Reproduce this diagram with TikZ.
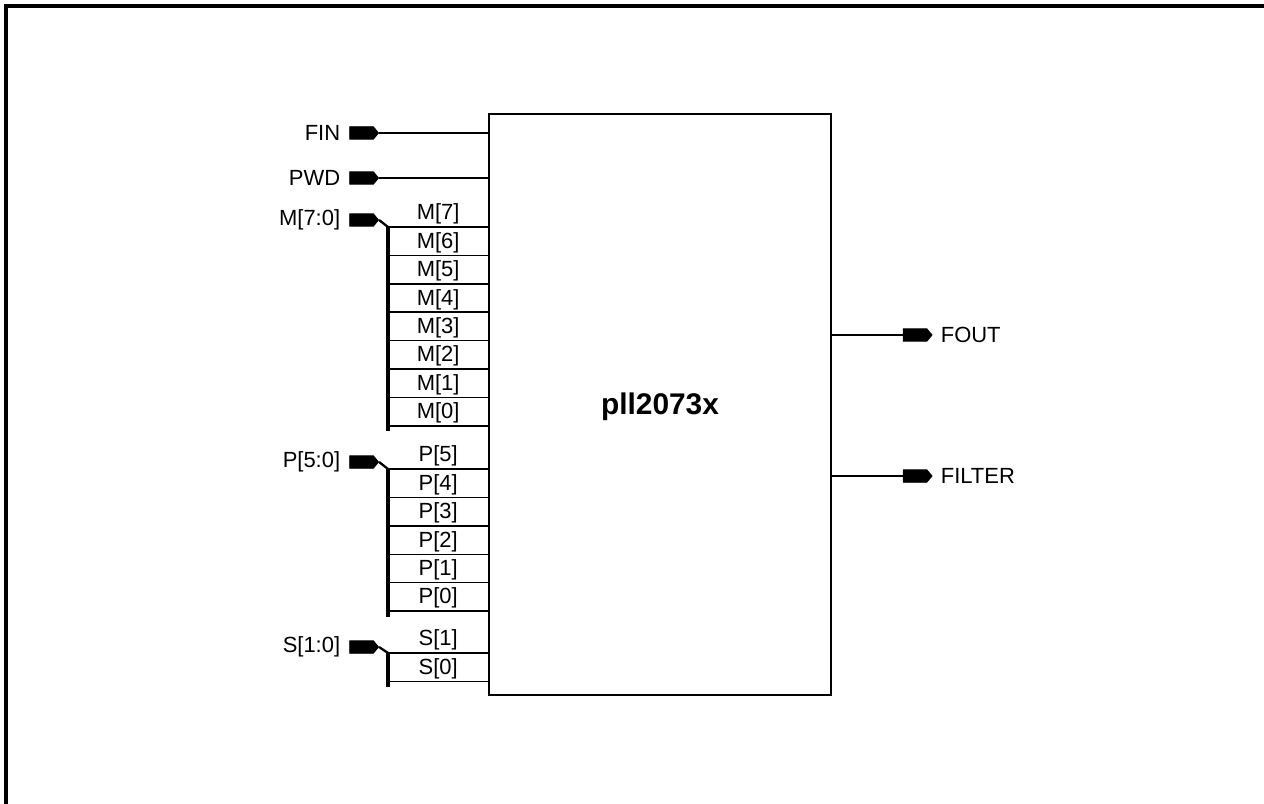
\documentclass[tikz,border=0pt]{standalone}
\usepackage{fontspec}
\setmainfont{Liberation Sans}
\usetikzlibrary{positioning,shapes.symbols}

\tikzset{
  port/.style={signal, signal to=east, signal pointer angle=100, fill=black, draw=black,
    inner sep=0pt, minimum width=0.58cm, minimum height=0.25cm},
  pinlbl/.style={inner sep=0pt, font=\fontsize{12.5}{15}\selectfont},
  wire/.style={line width=0.8pt},
  bus/.style={line width=1.8pt},
  tap/.style={line width=1.3pt},
}

\begin{document}
\begin{tikzpicture}[x=0.02cm, y=-0.02cm]
  \useasboundingbox (0,0) rectangle (1264,804);
  % page frame
  \draw[line width=1.8pt] (6,804) -- (6,6) -- (1264,6);

  % block
  \node[draw, wire, minimum width=6.84cm, minimum height=11.62cm, inner sep=0pt] (pll) at (660,404.5) {};
  \node[font=\fontsize{17}{20}\selectfont\bfseries] (title) at (660,407) {pll2073x};

  % single inputs
  \node[port] (fin) at (361.5,133) {};
  \node[pinlbl, left=5pt of fin] (finlbl) {FIN};
  \draw[wire] (fin.east) -- (fin -| pll.west);

  \node[port] (pwd) at (361.5,178) {};
  \node[pinlbl, left=5pt of pwd] (pwdlbl) {PWD};
  \draw[wire] (pwd.east) -- (pwd -| pll.west);

  % M bus
  \node[port] (mbus) at (361.5,220) {};
  \node[pinlbl, left=5pt of mbus] (mbuslbl) {M[7:0]};
  \coordinate (mtap) at (388,227);
  \coordinate (mend) at (388,431);
  \draw[tap] (mbus.east) -- (mtap);
  \foreach \i in {0,...,7} {
    \coordinate (m\i) at (388,{227+(7-\i)*28.4});
    \draw[wire] (m\i) -- (m\i -| pll.west) node[midway, above, pinlbl, inner sep=1pt] {M[\i]};
  }
  \draw[bus] (mtap) -- (mend);

  % P bus
  \node[port] (pbus) at (361.5,462) {};
  \node[pinlbl, left=5pt of pbus] (pbuslbl) {P[5:0]};
  \coordinate (ptap) at (388,469);
  \coordinate (pend) at (388,617);
  \draw[tap] (pbus.east) -- (ptap);
  \foreach \i in {0,...,5} {
    \coordinate (p\i) at (388,{469+(5-\i)*28.4});
    \draw[wire] (p\i) -- (p\i -| pll.west) node[midway, above, pinlbl, inner sep=1pt] {P[\i]};
  }
  \draw[bus] (ptap) -- (pend);

  % S bus
  \node[port] (sbus) at (361.5,647) {};
  \node[pinlbl, left=5pt of sbus] (sbuslbl) {S[1:0]};
  \coordinate (stap) at (388,653);
  \coordinate (send) at (388,687);
  \draw[tap] (sbus.east) -- (stap);
  \foreach \i in {0,1} {
    \coordinate (s\i) at (388,{653+(1-\i)*28.4});
    \draw[wire] (s\i) -- (s\i -| pll.west) node[midway, above, pinlbl, inner sep=1pt] {S[\i]};
  }
  \draw[bus] (stap) -- (send);

  % outputs
  \node[port] (fout) at (915,335) {};
  \node[pinlbl, right=4.5pt of fout] (foutlbl) {FOUT};
  \draw[wire] (fout -| pll.east) -- (fout.west);

  \node[port] (filter) at (915,476) {};
  \node[pinlbl, right=4.5pt of filter] (filterlbl) {FILTER};
  \draw[wire] (filter -| pll.east) -- (filter.west);
\end{tikzpicture}
\end{document}
